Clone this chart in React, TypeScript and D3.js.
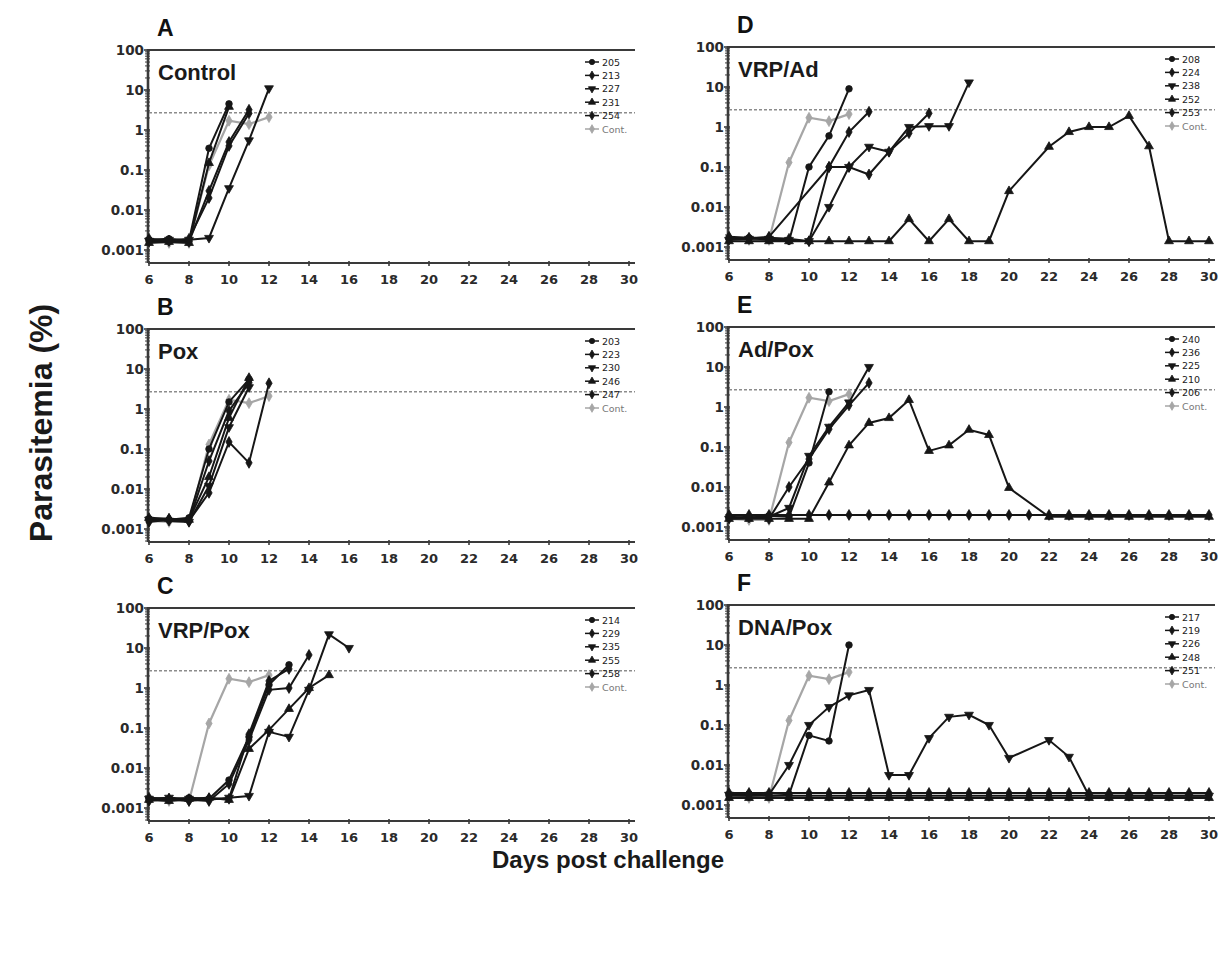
import React from "react";
import * as d3 from "d3";

// ---- data (parasitemia %) ----
const allDays = [6, 7, 8, 9, 10, 11, 12, 13, 14, 15, 16, 17, 18, 19, 20, 21, 22, 23, 24, 25, 26, 27, 28, 29, 30];
const gapDays = [6, 7, 8, 9, 10, 11, 12, 13, 14, 15, 16, 17, 18, 19, 20, 22, 23, 24, 25, 26, 27, 28, 29, 30];
const xTicks = [6, 8, 10, 12, 14, 16, 18, 20, 22, 24, 26, 28, 30];
const yTicks = [0.001, 0.01, 0.1, 1, 10, 100];
const yTickLabels = ["0.001", "0.01", "0.1", "1", "10", "100"];
const threshold = 2.7;

const controlDays = [6, 7, 8, 9, 10, 11, 12];
const controlValues = [0.0016, 0.0015, 0.0015, 0.13, 1.7, 1.4, 2.1];

const markers = ["circle", "diamond", "triangleDown", "triangleUp", "diamond"];

const seriesA = [
  { id: "205", days: [6, 7, 8, 9, 10], values: [0.0018, 0.0019, 0.0017, 0.35, 4.5] },
  { id: "213", days: [6, 7, 8, 9, 10, 11], values: [0.0016, 0.0017, 0.0016, 0.03, 0.5, 3.2] },
  { id: "227", days: [6, 7, 8, 9, 10, 11, 12], values: [0.0017, 0.0018, 0.0018, 0.002, 0.035, 0.55, 11] },
  { id: "231", days: [6, 7, 8, 9, 10], values: [0.0015, 0.0016, 0.0015, 0.15, 3.8] },
  { id: "254", days: [6, 7, 8, 9, 10, 11], values: [0.0019, 0.0017, 0.0019, 0.02, 0.4, 2.6] },
];

const seriesB = [
  { id: "203", days: [6, 7, 8, 9, 10, 11], values: [0.0018, 0.0017, 0.0019, 0.1, 1.5, 5.5] },
  { id: "223", days: [6, 7, 8, 9, 10, 11], values: [0.0016, 0.0018, 0.0016, 0.05, 0.9, 4.5] },
  { id: "230", days: [6, 7, 8, 9, 10, 11], values: [0.0017, 0.0016, 0.0015, 0.012, 0.35, 3.5] },
  { id: "246", days: [6, 7, 8, 9, 10, 11], values: [0.0019, 0.0018, 0.0017, 0.02, 0.6, 6] },
  { id: "247", days: [6, 7, 8, 9, 10, 11, 12], values: [0.0015, 0.0017, 0.0016, 0.008, 0.15, 0.045, 4.4] },
];

const seriesC = [
  { id: "214", days: [6, 7, 8, 9, 10, 11, 12, 13], values: [0.0017, 0.0016, 0.0018, 0.0017, 0.005, 0.06, 1.2, 3.8] },
  { id: "229", days: [6, 7, 8, 9, 10, 11, 12, 13, 14], values: [0.0015, 0.0017, 0.0016, 0.0015, 0.004, 0.05, 0.9, 1.0, 6.7] },
  { id: "235", days: [6, 7, 8, 9, 10, 11, 12, 13, 14, 15, 16], values: [0.0017, 0.0018, 0.0017, 0.0016, 0.0018, 0.002, 0.08, 0.06, 0.9, 22, 10] },
  { id: "255", days: [6, 7, 8, 9, 10, 11, 12, 13, 14, 15], values: [0.0016, 0.0015, 0.0017, 0.0018, 0.0016, 0.03, 0.09, 0.3, 1.0, 2.1] },
  { id: "258", days: [6, 7, 8, 9, 10, 11, 12, 13], values: [0.0018, 0.0017, 0.0015, 0.0017, 0.0017, 0.07, 1.5, 3.0] },
];

const seriesD = [
  { id: "208", days: [6, 7, 8, 9, 10, 11, 12], values: [0.0016, 0.0017, 0.0015, 0.0014, 0.1, 0.6, 9] },
  { id: "224", days: [6, 7, 8, 11, 12, 13, 14, 15, 16], values: [0.0017, 0.0016, 0.0018, 0.1, 0.1, 0.065, 0.24, 0.7, 2.2] },
  { id: "238", days: [6, 7, 8, 9, 10, 11, 12, 13, 14, 15, 16, 17, 18], values: [0.0015, 0.0016, 0.0016, 0.0015, 0.0014, 0.01, 0.1, 0.32, 0.24, 1.0, 1.05, 1.05, 13] },
  {
    id: "252", days: gapDays,
    values: [0.0014, 0.0014, 0.0014, 0.0014, 0.0014, 0.0014, 0.0014, 0.0014, 0.0014, 0.005, 0.0014, 0.005, 0.0014, 0.0014, 0.025, 0.32, 0.75, 1.0, 1.0, 1.9, 0.33, 0.0014, 0.0014, 0.0014],
  },
  { id: "253", days: [6, 7, 8, 9, 10, 11, 12, 13], values: [0.0018, 0.0017, 0.0017, 0.0016, 0.0014, 0.1, 0.75, 2.4] },
];

const seriesE = [
  { id: "240", days: [6, 7, 8, 9, 10, 11], values: [0.0018, 0.0017, 0.0019, 0.0018, 0.04, 2.4] },
  { id: "236", days: [6, 7, 8, 9, 10, 11, 12, 13], values: [0.0017, 0.0018, 0.0016, 0.01, 0.05, 0.28, 1.1, 4] },
  { id: "225", days: [6, 7, 8, 9, 10, 11, 12, 13], values: [0.0016, 0.0017, 0.0018, 0.003, 0.06, 0.32, 1.3, 10] },
  {
    id: "210", days: gapDays,
    values: [0.0016, 0.0016, 0.0016, 0.0016, 0.0016, 0.013, 0.11, 0.4, 0.53, 1.5, 0.08, 0.11, 0.27, 0.2, 0.0095, 0.0018, 0.0018, 0.0018, 0.0018, 0.0018, 0.0018, 0.0018, 0.0018, 0.0018],
  },
  {
    id: "206", days: allDays,
    values: [0.002, 0.002, 0.002, 0.002, 0.002, 0.002, 0.002, 0.002, 0.002, 0.002, 0.002, 0.002, 0.002, 0.002, 0.002, 0.002, 0.002, 0.002, 0.002, 0.002, 0.002, 0.002, 0.002, 0.002, 0.002],
  },
];

const seriesF = [
  { id: "217", days: [6, 7, 8, 9, 10, 11, 12], values: [0.0018, 0.0019, 0.0017, 0.0018, 0.055, 0.04, 10] },
  {
    id: "219", days: allDays,
    values: [0.002, 0.002, 0.002, 0.002, 0.002, 0.002, 0.002, 0.002, 0.002, 0.002, 0.002, 0.002, 0.002, 0.002, 0.002, 0.002, 0.002, 0.002, 0.002, 0.002, 0.002, 0.002, 0.002, 0.002, 0.002],
  },
  {
    id: "226", days: gapDays,
    values: [0.0018, 0.0017, 0.0018, 0.01, 0.1, 0.28, 0.55, 0.75, 0.0056, 0.0056, 0.047, 0.16, 0.18, 0.1, 0.015, 0.042, 0.016, 0.0017, 0.0017, 0.0017, 0.0017, 0.0017, 0.0017, 0.0017],
  },
  {
    id: "248", days: allDays,
    values: [0.0015, 0.0015, 0.0015, 0.0015, 0.0015, 0.0015, 0.0015, 0.0015, 0.0015, 0.0015, 0.0015, 0.0015, 0.0015, 0.0015, 0.0015, 0.0015, 0.0015, 0.0015, 0.0015, 0.0015, 0.0015, 0.0015, 0.0015, 0.0015, 0.0015],
  },
  {
    id: "251", days: allDays,
    values: [0.0017, 0.0017, 0.0017, 0.0017, 0.0017, 0.0017, 0.0017, 0.0017, 0.0017, 0.0017, 0.0017, 0.0017, 0.0017, 0.0017, 0.0017, 0.0017, 0.0017, 0.0017, 0.0017, 0.0017, 0.0017, 0.0017, 0.0017, 0.0017, 0.0017],
  },
];

const panels = [
  { letter: "A", title: "Control", series: seriesA, col: 0, row: 0 },
  { letter: "B", title: "Pox", series: seriesB, col: 0, row: 1 },
  { letter: "C", title: "VRP/Pox", series: seriesC, col: 0, row: 2 },
  { letter: "D", title: "VRP/Ad", series: seriesD, col: 1, row: 0 },
  { letter: "E", title: "Ad/Pox", series: seriesE, col: 1, row: 1 },
  { letter: "F", title: "DNA/Pox", series: seriesF, col: 1, row: 2 },
];

const W = 1229;
const H = 959;
const colX = [149, 729];
const rowTop = [[50, 329, 608], [47, 327, 605]];
const plotW = 480;
const plotH = 200;
const ink = "#161616";
const gray = "#a6a6a6";
const sans = "'Liberation Sans', Arial, sans-serif";
const tickFont = "'DejaVu Sans', sans-serif";

const symbolPath = (kind: string, size: number) => {
  const type =
    kind === "circle" ? d3.symbolCircle :
    kind === "diamond" ? d3.symbolDiamond :
    kind === "square" ? d3.symbolSquare : d3.symbolTriangle;
  return d3.symbol().type(type).size(size)() as string;
};

const Marker = ({ kind, x, y, fill, size = 34 }: any) => (
  <path
    d={symbolPath(kind, size)}
    transform={`translate(${x},${y})${kind === "triangleDown" ? " rotate(180)" : ""}`}
    fill={fill}
    stroke={fill}
    strokeWidth={0.8}
  />
);

const Panel = ({ p }: any) => {
  const x0 = colX[p.col];
  const top = rowTop[p.col][p.row];
  const x = d3.scaleLinear().domain([6, 30]).range([x0, x0 + plotW]);
  const y = d3.scaleLog().domain([0.001, 100]).range([top + plotH, top]);
  const axisY = top + 213;
  const right = x0 + plotW + 6;
  const line = d3.line<[number, number]>().x((d) => x(d[0])).y((d) => y(d[1]));

  const minor: number[] = [];
  for (let e = -4; e < 2; e++) {
    for (let k = 2; k < 10; k++) {
      const v = k * Math.pow(10, e);
      if (y(v) <= axisY && v < 100) minor.push(v);
    }
  }

  const ctrlPts = controlDays.map((d, i) => [d, controlValues[i]] as [number, number]);
  const legendX = x0 + 436;
  const legendY = (i: number) => top + 12 + i * 13.4;

  return (
    <g>
      <text x={x0 + 8} y={top - 14} fontFamily={sans} fontWeight="bold" fontSize={23} fill="#111">
        {p.letter}
      </text>
      {/* frame: top line, y axis, x axis */}
      <line x1={x0 - 1} x2={right} y1={top} y2={top} stroke="#3a3a3a" strokeWidth={2.2} />
      <line x1={x0 - 1} x2={x0 - 1} y1={top - 1} y2={axisY} stroke="#3a3a3a" strokeWidth={2.6} />
      <line x1={x0 - 1} x2={right} y1={axisY} y2={axisY} stroke="#3a3a3a" strokeWidth={2.2} />
      {minor.map((v, i) => (
        <line key={i} x1={x0 - 4} x2={x0 + 1} y1={y(v)} y2={y(v)} stroke="#3a3a3a" strokeWidth={1} />
      ))}
      {yTicks.map((v, i) => (
        <g key={v}>
          <line x1={x0 - 5} x2={x0 + 1} y1={y(v)} y2={y(v)} stroke="#3a3a3a" strokeWidth={1.6} />
          <text x={x0 - 5} y={y(v) + 5} textAnchor="end" fontFamily={tickFont} fontWeight="bold" fontSize={13.5} fill="#2a2a2a">
            {yTickLabels[i]}
          </text>
        </g>
      ))}
      {xTicks.map((d) => (
        <g key={d}>
          <line x1={x(d)} x2={x(d)} y1={axisY - 2} y2={axisY + 3} stroke="#3a3a3a" strokeWidth={1.6} />
          <text x={x(d)} y={axisY + 21} textAnchor="middle" fontFamily={tickFont} fontWeight="bold" fontSize={13} fill="#2a2a2a">
            {d}
          </text>
        </g>
      ))}
      <text x={x0 + 9} y={top + 30} fontFamily={sans} fontWeight="bold" fontSize={22} fill="#1a1a1a">
        {p.title}
      </text>
      {/* threshold */}
      <line x1={x0} x2={right} y1={y(threshold)} y2={y(threshold)} stroke="#8c8c8c" strokeWidth={1.6} strokeDasharray="3,2" />
      {/* control */}
      <path d={line(ctrlPts) as string} fill="none" stroke={gray} strokeWidth={2.2} />
      {ctrlPts.map((d, i) => (
        <Marker key={i} kind="diamond" x={x(d[0])} y={y(d[1])} fill={gray} />
      ))}
      {p.series.map((s: any, si: number) => {
        const pts = s.days.map((d: number, i: number) => [d, s.values[i]] as [number, number]);
        return (
          <g key={s.id}>
            <path d={line(pts) as string} fill="none" stroke={ink} strokeWidth={2} />
            {pts.map((d: [number, number], i: number) => (
              <Marker key={i} kind={markers[si]} x={x(d[0])} y={y(d[1])} fill={ink} />
            ))}
          </g>
        );
      })}
      {/* legend */}
      {p.series.map((s: any, si: number) => (
        <g key={"l" + s.id}>
          <line x1={legendX} x2={legendX + 14} y1={legendY(si)} y2={legendY(si)} stroke={ink} strokeWidth={1.5} />
          <Marker kind={markers[si]} x={legendX + 7} y={legendY(si)} fill={ink} size={22} />
          <text x={legendX + 17} y={legendY(si) + 3.5} fontFamily={tickFont} fontSize={9.5} fill="#222">
            {s.id}
          </text>
        </g>
      ))}
      <g>
        <line x1={legendX} x2={legendX + 14} y1={legendY(5)} y2={legendY(5)} stroke={gray} strokeWidth={1.5} />
        <Marker kind="diamond" x={legendX + 7} y={legendY(5)} fill={gray} size={22} />
        <text x={legendX + 17} y={legendY(5) + 3.5} fontFamily={tickFont} fontSize={9.5} fill="#777">
          Cont.
        </text>
      </g>
    </g>
  );
};

export default function App() {
  return (
    <svg
      width={W}
      height={H}
      style={{ display: "block", position: "absolute", left: 0, top: 0, background: "#fff" }}
    >
      <rect x={0} y={0} width={W} height={H} fill="#fff" />
      {panels.map((p) => (
        <Panel key={p.letter} p={p} />
      ))}
      <text
        transform="translate(52,423) rotate(-90)"
        textAnchor="middle"
        fontFamily={sans}
        fontWeight="bold"
        fontSize={32}
        fill="#1a1a1a"
      >
        Parasitemia (%)
      </text>
      <text x={608} y={868} textAnchor="middle" fontFamily={sans} fontWeight="bold" fontSize={24} fill="#1a1a1a">
        Days post challenge
      </text>
    </svg>
  );
}
